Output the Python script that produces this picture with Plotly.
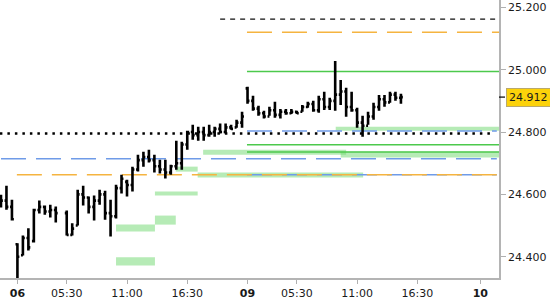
import plotly.graph_objects as go

# ---- data ----
bar_slot = list(range(0, 11)) + list(range(12, 74))
high = [24.599, 24.628, 24.583, 24.443, 24.468, 24.491, 24.554, 24.580, 24.564, 24.567, 24.561,
        24.548, 24.507, 24.615, 24.628, 24.593, 24.596, 24.615, 24.612, 24.583, 24.631, 24.663,
        24.647, 24.689, 24.727, 24.737, 24.743, 24.727, 24.711, 24.711, 24.695, 24.772, 24.769,
        24.804, 24.823, 24.817, 24.817, 24.823, 24.817, 24.827, 24.827, 24.823, 24.839, 24.865,
        24.945, 24.916, 24.884, 24.868, 24.881, 24.897, 24.874, 24.874, 24.874, 24.868, 24.887,
        24.897, 24.900, 24.916, 24.929, 24.910, 25.028, 24.967, 24.942, 24.929, 24.878, 24.852,
        24.865, 24.894, 24.919, 24.919, 24.929, 24.929, 24.923]
low = [24.558, 24.551, 24.516, 24.331, 24.404, 24.420, 24.446, 24.539, 24.535, 24.526, 24.510,
       24.468, 24.468, 24.500, 24.564, 24.539, 24.516, 24.567, 24.519, 24.465, 24.523, 24.603,
       24.593, 24.609, 24.673, 24.689, 24.702, 24.670, 24.667, 24.651, 24.663, 24.679, 24.679,
       24.743, 24.775, 24.772, 24.772, 24.785, 24.785, 24.795, 24.795, 24.807, 24.814, 24.814,
       24.891, 24.868, 24.852, 24.843, 24.852, 24.846, 24.843, 24.855, 24.858, 24.858, 24.865,
       24.878, 24.865, 24.862, 24.871, 24.871, 24.868, 24.887, 24.849, 24.865, 24.814, 24.785,
       24.823, 24.839, 24.868, 24.881, 24.894, 24.900, 24.891]
open_ = [24.590, 24.580, 24.560, 24.440, 24.405, 24.460, 24.450, 24.550, 24.560, 24.545, 24.550,
         24.540, 24.470, 24.500, 24.600, 24.590, 24.560, 24.580, 24.600, 24.540, 24.530, 24.620,
         24.640, 24.630, 24.680, 24.710, 24.720, 24.710, 24.690, 24.680, 24.670, 24.690, 24.700,
         24.760, 24.800, 24.790, 24.800, 24.790, 24.800, 24.810, 24.800, 24.815, 24.815, 24.830,
         24.940, 24.900, 24.875, 24.860, 24.850, 24.870, 24.855, 24.865, 24.860, 24.865, 24.865,
         24.880, 24.890, 24.870, 24.905, 24.880, 24.900, 24.920, 24.930, 24.880, 24.870, 24.830,
         24.820, 24.850, 24.880, 24.905, 24.895, 24.920, 24.910]
close = [24.580, 24.560, 24.520, 24.400, 24.460, 24.430, 24.550, 24.560, 24.545, 24.550, 24.540,
         24.470, 24.490, 24.600, 24.590, 24.560, 24.580, 24.600, 24.540, 24.530, 24.620, 24.650,
         24.630, 24.680, 24.710, 24.720, 24.710, 24.690, 24.680, 24.670, 24.690, 24.700, 24.760,
         24.800, 24.790, 24.800, 24.790, 24.800, 24.810, 24.800, 24.815, 24.810, 24.830, 24.850,
         24.900, 24.875, 24.860, 24.850, 24.870, 24.855, 24.865, 24.860, 24.865, 24.860, 24.880,
         24.890, 24.870, 24.905, 24.880, 24.900, 24.920, 24.930, 24.880, 24.870, 24.830, 24.820,
         24.850, 24.880, 24.905, 24.895, 24.920, 24.910, 24.912]
last_price = 24.912

x_tick_pos = [3, 12, 23, 34, 45, 54, 65, 76, 87.5]
x_tick_text = ["<b>06</b>", "05:30", "11:00", "16:30", "<b>09</b>", "05:30", "11:00", "16:30", "<b>10</b>"]
y_tick_vals = [24.4, 24.6, 24.8, 25.0, 25.2]
y_tick_text = ["24.400", "24.600", "24.800", "25.000", "25.200"]

# horizontal levels
level_price = [25.162, 24.803, 24.714, 24.795, 24.994, 24.759, 24.736, 24.663, 24.663, 25.120]
level_start = [40.0, 44.9, 0.0, -0.2, 44.9, 44.9, 44.9, 44.9, 2.9, 44.9]
level_end = [90.5, 90.5, 90.5, 90.0, 91.0, 91.0, 91.0, 90.5, 90.5, 91.0]
level_kind = ["black_dash", "blue", "blue", "dotted", "green", "green", "green", "blue", "orange", "orange"]

# zones (bands)
zone_start = [21, 21, 28.1, 28.1, 31.9, 35.9, 36.9, 62.0, 61.1]
zone_end = [28.1, 28.1, 31.9, 35.9, 35.9, 66.1, 63.0, 91.0, 91.0]
zone_top = [24.503, 24.398, 24.532, 24.609, 24.689, 24.670, 24.743, 24.737, 24.817]
zone_bottom = [24.481, 24.372, 24.503, 24.596, 24.673, 24.654, 24.727, 24.718, 24.804]

# ---- styles ----
styles = {
    "black_dash": dict(color="#111111", width=1.2, dash="5px,5px"),
    "blue": dict(color="#6f9be8", width=1.5, dash="25px,10px"),
    "dotted": dict(color="#000000", width=2.5, dash="2.5px,5px"),
    "green": dict(color="#4cc94c", width=1.5, dash="solid"),
    "orange": dict(color="#f5b440", width=1.5, dash="25px,10px"),
}

shapes = []
for x0, x1, yt, yb in zip(zone_start, zone_end, zone_top, zone_bottom):
    shapes.append(dict(type="rect", xref="x", yref="y", x0=x0, x1=x1, y0=yb, y1=yt,
                       fillcolor="rgba(110,215,110,0.5)", line=dict(width=0), layer="below"))
for p, x0, x1, k in zip(level_price, level_start, level_end, level_kind):
    shapes.append(dict(type="line", xref="x", yref="y", x0=x0, x1=x1, y0=p, y1=p,
                       line=styles[k], layer="below"))
# small tick for last price on axis
shapes.append(dict(type="line", xref="paper", yref="y", x0=1.0, x1=1.0 + 6 / 499, y0=last_price,
                   y1=last_price, line=dict(color="#000000", width=1.2)))

fig = go.Figure()
fig.add_trace(go.Ohlc(
    x=bar_slot, open=open_, high=high, low=low, close=close,
    increasing=dict(line=dict(color="#000000", width=2.6)),
    decreasing=dict(line=dict(color="#000000", width=2.6)),
    tickwidth=0.35, hoverinfo="skip", showlegend=False,
))

font = dict(family="DejaVu Sans", size=11, color="#1a1a1a")

fig.update_layout(
    width=550, height=300,
    margin=dict(l=0, r=51, t=0, b=20),
    paper_bgcolor="white", plot_bgcolor="white",
    showlegend=False,
    shapes=shapes,
    font=font,
    xaxis=dict(
        range=[-0.18, 90.9], rangeslider=dict(visible=False),
        tickmode="array", tickvals=x_tick_pos, ticktext=x_tick_text,
        ticks="outside", ticklen=4, tickcolor="#b0b0b0", tickwidth=1,
        showline=True, linecolor="#b4b4b4", linewidth=1.5,
        showgrid=False, zeroline=False, tickfont=font,
    ),
    yaxis=dict(
        side="right", range=[24.3318, 25.2234],
        tickmode="array", tickvals=y_tick_vals, ticktext=y_tick_text,
        ticks="outside", ticklen=5, tickcolor="#b0b0b0", tickwidth=1,
        showline=True, linecolor="#b4b4b4", linewidth=1.5,
        showgrid=False, zeroline=False, tickfont=font,
    ),
    annotations=[dict(
        xref="paper", yref="y", x=1.0, y=last_price, xanchor="left", yanchor="middle",
        xshift=7, text="24.912", showarrow=False, font=font,
        bgcolor="#fcd20a", bordercolor="#b9a96a", borderwidth=1, borderpad=2,
    )],
)

fig.write_html("out.html")
